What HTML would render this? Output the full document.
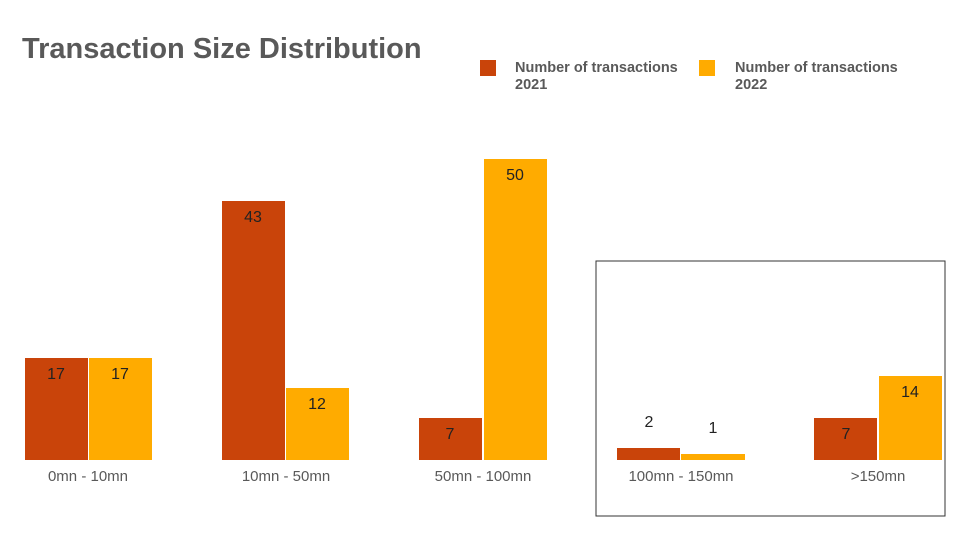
<!DOCTYPE html>
<html><head><meta charset="utf-8"><style>
body{margin:0;background:#fff;}
svg{display:block;font-family:"Liberation Sans",sans-serif;}
</style></head><body>
<svg width="960" height="540" viewBox="0 0 960 540">
<text x="22" y="58" font-size="29" font-weight="bold" fill="#595959">Transaction Size Distribution</text>
<rect x="480" y="60" width="16" height="16" fill="#C9440A"/>
<text x="515" y="72" font-size="14.5" font-weight="bold" fill="#595959">Number of transactions</text>
<text x="515" y="89" font-size="14.5" font-weight="bold" fill="#595959">2021</text>
<rect x="699" y="60" width="16" height="16" fill="#FFAB00"/>
<text x="735" y="72" font-size="14.5" font-weight="bold" fill="#595959">Number of transactions</text>
<text x="735" y="89" font-size="14.5" font-weight="bold" fill="#595959">2022</text>
<rect x="596" y="261" width="349" height="255" fill="none" stroke="#333" stroke-width="1"/>
<g fill="#C9440A">
<rect x="25" y="358" width="63" height="102"/>
<rect x="222" y="201" width="63" height="259"/>
<rect x="419" y="418" width="63" height="42"/>
<rect x="617" y="448" width="63" height="12"/>
<rect x="814" y="418" width="63" height="42"/>
</g>
<g fill="#FFAB00">
<rect x="89" y="358" width="63" height="102"/>
<rect x="286" y="388" width="63" height="72"/>
<rect x="484" y="159" width="63" height="301"/>
<rect x="681" y="454" width="64" height="6"/>
<rect x="879" y="376" width="63" height="84"/>
</g>
<g font-size="16" fill="#222" text-anchor="middle">
<text x="56" y="379">17</text><text x="120" y="379">17</text>
<text x="253" y="222">43</text><text x="317" y="409">12</text>
<text x="450" y="439">7</text><text x="515" y="180">50</text>
<text x="649" y="427">2</text><text x="713" y="433">1</text>
<text x="846" y="439">7</text><text x="910" y="397">14</text>
</g>
<g font-size="15" fill="#595959" text-anchor="middle">
<text x="88" y="481">0mn - 10mn</text>
<text x="286" y="481">10mn - 50mn</text>
<text x="483" y="481">50mn - 100mn</text>
<text x="681" y="481">100mn - 150mn</text>
<text x="878" y="481">&gt;150mn</text>
</g>
</svg>
</body></html>
